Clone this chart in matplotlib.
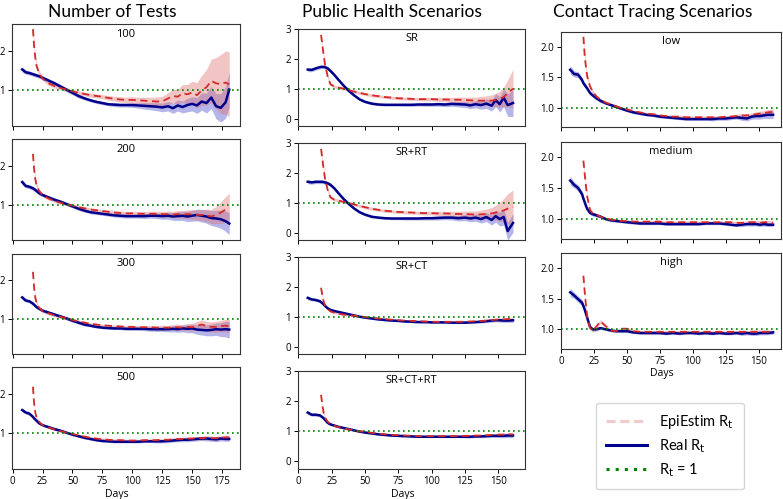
import numpy as np
import matplotlib
matplotlib.use("Agg")
import matplotlib.pyplot as plt
from matplotlib.lines import Line2D

nan = np.nan

# ------------------------------------------------------------------ #
# column 1 : number of tests
days_tests = [8, 11, 14, 17, 18, 19, 20, 22, 25, 30, 35, 40, 45, 50, 55, 60, 65, 70, 75, 80, 85,
              90, 95, 100, 105, 110, 115, 120, 125, 130, 134, 138, 142, 146, 150, 154, 158,
              162, 166, 170, 174, 178, 181]

real_100 = [1.53, 1.46, 1.44, 1.41, 1.40, 1.39, 1.38, 1.36, 1.32, 1.25, 1.18, 1.10, 1.02, 0.94, 0.86,
            0.80, 0.75, 0.71, 0.68, 0.65, 0.64, 0.63, 0.63, 0.63, 0.62, 0.61, 0.60, 0.59, 0.57, 0.60,
            0.55, 0.62, 0.58, 0.63, 0.66, 0.62, 0.72, 0.68, 0.82, 0.60, 0.56, 0.70, 1.02]
real_100_sd = [0.07, 0.05, 0.05, 0.05, 0.05, 0.05, 0.05, 0.05, 0.05, 0.05, 0.05, 0.05, 0.05, 0.05, 0.05,
               0.04, 0.04, 0.04, 0.04, 0.04, 0.05, 0.05, 0.05, 0.06, 0.07, 0.08, 0.09, 0.10, 0.11, 0.12,
               0.13, 0.14, 0.15, 0.17, 0.18, 0.20, 0.22, 0.25, 0.28, 0.32, 0.36, 0.40, 0.45]
epi_100 = [nan, nan, nan, 2.55, 2.10, 1.82, 1.62, 1.45, 1.30, 1.18, 1.11, 1.06, 1.02, 0.98, 0.94,
           0.91, 0.88, 0.86, 0.84, 0.81, 0.79, 0.77, 0.76, 0.76, 0.75, 0.74, 0.73, 0.72, 0.72, 0.80,
           0.86, 0.84, 0.93, 0.90, 0.95, 0.88, 1.00, 1.08, 1.24, 1.18, 1.16, 1.20, 1.15]
epi_100_sd = [nan, nan, nan, 0.12, 0.10, 0.08, 0.07, 0.06, 0.05, 0.05, 0.05, 0.05, 0.05, 0.05, 0.05,
              0.05, 0.05, 0.05, 0.05, 0.06, 0.06, 0.07, 0.07, 0.08, 0.08, 0.09, 0.10, 0.11, 0.13, 0.15,
              0.17, 0.19, 0.22, 0.25, 0.28, 0.32, 0.38, 0.45, 0.55, 0.65, 0.75, 0.80, 0.82]

real_200 = [1.58, 1.48, 1.46, 1.42, 1.40, 1.38, 1.35, 1.30, 1.25, 1.19, 1.13, 1.08, 1.02, 0.96, 0.90,
            0.85, 0.81, 0.79, 0.77, 0.75, 0.73, 0.72, 0.71, 0.71, 0.71, 0.71, 0.72, 0.72, 0.71, 0.72,
            0.70, 0.71, 0.72, 0.70, 0.72, 0.74, 0.72, 0.70, 0.66, 0.65, 0.63, 0.58, 0.52]
real_200_sd = [0.07, 0.05, 0.05, 0.05, 0.05, 0.05, 0.05, 0.05, 0.04, 0.04, 0.04, 0.04, 0.04, 0.04, 0.04,
               0.04, 0.04, 0.04, 0.04, 0.04, 0.04, 0.05, 0.05, 0.05, 0.05, 0.06, 0.06, 0.07, 0.08, 0.09,
               0.10, 0.11, 0.12, 0.13, 0.14, 0.15, 0.16, 0.17, 0.19, 0.21, 0.23, 0.26, 0.28]
epi_200 = [nan, nan, nan, 2.30, 1.90, 1.65, 1.50, 1.36, 1.25, 1.16, 1.10, 1.05, 1.02, 0.98, 0.94,
           0.91, 0.88, 0.86, 0.84, 0.82, 0.80, 0.79, 0.78, 0.78, 0.77, 0.77, 0.77, 0.77, 0.76, 0.76,
           0.75, 0.76, 0.75, 0.76, 0.75, 0.74, 0.74, 0.73, 0.70, 0.74, 0.80, 0.88, 0.92]
epi_200_sd = [nan, nan, nan, 0.10, 0.08, 0.07, 0.06, 0.05, 0.05, 0.04, 0.04, 0.04, 0.04, 0.04, 0.04,
              0.04, 0.04, 0.04, 0.04, 0.05, 0.05, 0.05, 0.05, 0.05, 0.06, 0.06, 0.06, 0.07, 0.07, 0.08,
              0.08, 0.09, 0.10, 0.11, 0.12, 0.13, 0.14, 0.16, 0.18, 0.22, 0.28, 0.33, 0.38]

real_300 = [1.56, 1.48, 1.46, 1.40, 1.37, 1.34, 1.31, 1.27, 1.22, 1.17, 1.12, 1.07, 1.02, 0.96, 0.91,
            0.86, 0.83, 0.80, 0.78, 0.77, 0.76, 0.76, 0.75, 0.75, 0.75, 0.75, 0.74, 0.74, 0.74, 0.74,
            0.75, 0.74, 0.76, 0.75, 0.76, 0.73, 0.72, 0.71, 0.72, 0.74, 0.73, 0.74, 0.73]
real_300_sd = [0.06, 0.04, 0.04, 0.04, 0.04, 0.04, 0.04, 0.04, 0.04, 0.04, 0.04, 0.04, 0.04, 0.04, 0.04,
               0.04, 0.03, 0.03, 0.03, 0.03, 0.03, 0.03, 0.04, 0.04, 0.04, 0.05, 0.05, 0.06, 0.06, 0.07,
               0.08, 0.08, 0.09, 0.10, 0.11, 0.12, 0.13, 0.14, 0.15, 0.16, 0.18, 0.20, 0.22]
epi_300 = [nan, nan, nan, 2.22, 1.80, 1.55, 1.42, 1.30, 1.21, 1.15, 1.10, 1.06, 1.02, 0.98, 0.94,
           0.91, 0.88, 0.86, 0.84, 0.83, 0.82, 0.81, 0.80, 0.80, 0.79, 0.79, 0.79, 0.78, 0.78, 0.78,
           0.79, 0.79, 0.78, 0.80, 0.79, 0.83, 0.86, 0.82, 0.80, 0.80, 0.82, 0.83, 0.82]
epi_300_sd = [nan, nan, nan, 0.08, 0.07, 0.06, 0.05, 0.04, 0.04, 0.04, 0.04, 0.04, 0.04, 0.04, 0.04,
              0.03, 0.03, 0.03, 0.03, 0.03, 0.03, 0.04, 0.04, 0.04, 0.04, 0.04, 0.05, 0.05, 0.06, 0.06,
              0.07, 0.08, 0.08, 0.09, 0.10, 0.11, 0.12, 0.12, 0.13, 0.14, 0.15, 0.16, 0.18]

real_500 = [1.59, 1.53, 1.50, 1.42, 1.38, 1.35, 1.32, 1.26, 1.21, 1.16, 1.11, 1.07, 1.02, 0.97, 0.93,
            0.89, 0.86, 0.83, 0.81, 0.80, 0.79, 0.79, 0.79, 0.79, 0.79, 0.80, 0.80, 0.80, 0.80, 0.81,
            0.82, 0.83, 0.84, 0.84, 0.85, 0.86, 0.87, 0.87, 0.86, 0.85, 0.87, 0.86, 0.86]
real_500_sd = [0.06, 0.04, 0.04, 0.04, 0.03, 0.03, 0.03, 0.03, 0.03, 0.03, 0.03, 0.03, 0.03, 0.03, 0.03,
               0.03, 0.03, 0.03, 0.03, 0.03, 0.03, 0.03, 0.03, 0.03, 0.03, 0.03, 0.03, 0.04, 0.04, 0.04,
               0.04, 0.04, 0.05, 0.05, 0.05, 0.05, 0.05, 0.06, 0.06, 0.06, 0.06, 0.06, 0.06]
epi_500 = [nan, nan, nan, 2.18, 1.75, 1.52, 1.40, 1.30, 1.21, 1.15, 1.10, 1.06, 1.02, 0.99, 0.95,
           0.92, 0.89, 0.87, 0.85, 0.84, 0.83, 0.83, 0.82, 0.82, 0.82, 0.83, 0.83, 0.83, 0.84, 0.84,
           0.85, 0.86, 0.86, 0.87, 0.87, 0.88, 0.88, 0.89, 0.88, 0.88, 0.89, 0.90, 0.90]
epi_500_sd = [nan, nan, nan, 0.06, 0.05, 0.04, 0.04, 0.03, 0.03, 0.03, 0.03, 0.03, 0.03, 0.03, 0.03,
              0.03, 0.03, 0.03, 0.03, 0.03, 0.03, 0.03, 0.03, 0.03, 0.03, 0.03, 0.03, 0.03, 0.03, 0.03,
              0.04, 0.04, 0.04, 0.04, 0.04, 0.04, 0.05, 0.05, 0.05, 0.05, 0.05, 0.05, 0.05]

# ------------------------------------------------------------------ #
# columns 2 and 3 share the same day grid
days_sc = [7, 10, 13, 16, 17, 18, 19, 20, 22, 24, 27, 30, 34, 38, 42, 46, 50, 55, 60, 65, 70,
           75, 80, 85, 90, 95, 100, 105, 110, 115, 120, 125, 129, 133, 137, 141, 145, 148, 151,
           154, 157, 161]

real_sr = [1.64, 1.63, 1.68, 1.72, 1.73, 1.73, 1.73, 1.72, 1.68, 1.60, 1.46, 1.30, 1.10, 0.92,
           0.77, 0.64, 0.56, 0.50, 0.47, 0.46, 0.46, 0.46, 0.46, 0.46, 0.47, 0.47, 0.47, 0.48,
           0.47, 0.49, 0.48, 0.47, 0.44, 0.48, 0.45, 0.50, 0.43, 0.62, 0.48, 0.70, 0.45, 0.52]
real_sr_sd = [0.07, 0.06, 0.06, 0.06, 0.06, 0.06, 0.06, 0.06, 0.06, 0.06, 0.05, 0.05, 0.05, 0.05,
              0.04, 0.04, 0.04, 0.04, 0.04, 0.04, 0.04, 0.04, 0.05, 0.05, 0.05, 0.06, 0.06, 0.07,
              0.07, 0.08, 0.09, 0.10, 0.11, 0.12, 0.14, 0.16, 0.18, 0.22, 0.26, 0.30, 0.38, 0.45]
epi_sr = [nan, nan, nan, nan, 2.80, 2.45, 2.10, 1.80, 1.40, 1.15, 1.07, 1.04, 1.00, 0.95,
          0.90, 0.86, 0.82, 0.78, 0.75, 0.72, 0.70, 0.68, 0.67, 0.66, 0.65, 0.65, 0.65, 0.64,
          0.64, 0.63, 0.63, 0.62, 0.61, 0.60, 0.60, 0.60, 0.60, 0.62, 0.65, 0.72, 0.85, 1.00]
epi_sr_sd = [nan, nan, nan, nan, 0.10, 0.09, 0.08, 0.07, 0.06, 0.05, 0.05, 0.05, 0.05, 0.05,
             0.05, 0.05, 0.05, 0.05, 0.05, 0.05, 0.05, 0.05, 0.05, 0.05, 0.05, 0.06, 0.06, 0.07,
             0.07, 0.08, 0.09, 0.10, 0.11, 0.12, 0.14, 0.16, 0.19, 0.22, 0.27, 0.33, 0.45, 0.65]

real_srrt = [1.70, 1.68, 1.70, 1.70, 1.70, 1.70, 1.69, 1.68, 1.65, 1.60, 1.48, 1.32, 1.12, 0.95,
             0.80, 0.68, 0.60, 0.53, 0.50, 0.48, 0.47, 0.47, 0.47, 0.47, 0.47, 0.48, 0.48, 0.49,
             0.50, 0.50, 0.48, 0.50, 0.47, 0.50, 0.45, 0.52, 0.42, 0.55, 0.45, 0.52, 0.05, 0.32]
real_srrt_sd = [0.07, 0.06, 0.06, 0.06, 0.06, 0.06, 0.06, 0.06, 0.06, 0.06, 0.05, 0.05, 0.05, 0.05,
                0.04, 0.04, 0.04, 0.04, 0.04, 0.04, 0.04, 0.04, 0.05, 0.05, 0.05, 0.06, 0.06, 0.07,
                0.07, 0.08, 0.09, 0.10, 0.11, 0.12, 0.13, 0.15, 0.17, 0.20, 0.23, 0.27, 0.30, 0.32]
epi_srrt = [nan, nan, nan, nan, 2.80, 2.45, 2.10, 1.80, 1.42, 1.18, 1.10, 1.07, 1.03, 0.99,
            0.94, 0.89, 0.85, 0.80, 0.76, 0.73, 0.71, 0.69, 0.68, 0.67, 0.66, 0.65, 0.65, 0.64,
            0.64, 0.63, 0.62, 0.62, 0.61, 0.60, 0.61, 0.62, 0.64, 0.67, 0.70, 0.74, 0.80, 0.85]
epi_srrt_sd = [nan, nan, nan, nan, 0.10, 0.09, 0.08, 0.07, 0.06, 0.05, 0.05, 0.05, 0.05, 0.05,
               0.05, 0.05, 0.05, 0.05, 0.05, 0.05, 0.05, 0.05, 0.05, 0.05, 0.05, 0.06, 0.06, 0.07,
               0.07, 0.08, 0.09, 0.10, 0.11, 0.12, 0.14, 0.17, 0.20, 0.25, 0.32, 0.40, 0.50, 0.58]

real_srct = [1.63, 1.58, 1.56, 1.52, 1.49, 1.45, 1.41, 1.36, 1.28, 1.23, 1.19, 1.16, 1.12, 1.08,
             1.04, 1.00, 0.97, 0.94, 0.91, 0.89, 0.87, 0.86, 0.84, 0.83, 0.82, 0.82, 0.81, 0.81,
             0.81, 0.80, 0.80, 0.80, 0.81, 0.82, 0.83, 0.85, 0.87, 0.88, 0.88, 0.87, 0.87, 0.88]
real_srct_sd = [0.07, 0.05, 0.05, 0.05, 0.05, 0.05, 0.05, 0.05, 0.04, 0.04, 0.04, 0.04, 0.03, 0.03,
                0.03, 0.03, 0.03, 0.03, 0.03, 0.03, 0.03, 0.03, 0.03, 0.03, 0.03, 0.03, 0.03, 0.03,
                0.03, 0.03, 0.03, 0.03, 0.04, 0.04, 0.04, 0.05, 0.05, 0.05, 0.06, 0.06, 0.06, 0.07]
epi_srct = [nan, nan, nan, nan, 1.97, 1.70, 1.50, 1.38, 1.25, 1.18, 1.13, 1.10, 1.07, 1.05,
            1.03, 1.01, 0.99, 0.96, 0.94, 0.92, 0.90, 0.88, 0.87, 0.86, 0.85, 0.84, 0.83, 0.83,
            0.83, 0.83, 0.83, 0.83, 0.84, 0.85, 0.86, 0.87, 0.89, 0.90, 0.91, 0.91, 0.92, 0.92]
epi_srct_sd = [nan, nan, nan, nan, 0.06, 0.05, 0.04, 0.04, 0.03, 0.03, 0.03, 0.03, 0.03, 0.03,
               0.03, 0.03, 0.03, 0.03, 0.03, 0.03, 0.03, 0.03, 0.03, 0.03, 0.03, 0.03, 0.03, 0.03,
               0.03, 0.03, 0.03, 0.03, 0.03, 0.03, 0.04, 0.04, 0.04, 0.04, 0.05, 0.05, 0.05, 0.05]

real_srctrt = [1.62, 1.55, 1.55, 1.53, 1.50, 1.47, 1.43, 1.38, 1.28, 1.23, 1.19, 1.15, 1.11, 1.07,
               1.03, 0.99, 0.96, 0.93, 0.90, 0.88, 0.86, 0.85, 0.84, 0.83, 0.82, 0.82, 0.82, 0.82,
               0.82, 0.82, 0.82, 0.82, 0.82, 0.83, 0.83, 0.84, 0.85, 0.85, 0.85, 0.85, 0.86, 0.86]
real_srctrt_sd = [0.07, 0.05, 0.05, 0.05, 0.05, 0.05, 0.05, 0.05, 0.04, 0.04, 0.04, 0.04, 0.03, 0.03,
                  0.03, 0.03, 0.03, 0.03, 0.03, 0.03, 0.03, 0.03, 0.03, 0.03, 0.03, 0.03, 0.03, 0.03,
                  0.03, 0.03, 0.03, 0.04, 0.04, 0.04, 0.04, 0.05, 0.05, 0.05, 0.06, 0.06, 0.07, 0.07]
epi_srctrt = [nan, nan, nan, nan, 2.21, 1.85, 1.60, 1.45, 1.32, 1.24, 1.18, 1.14, 1.10, 1.06,
              1.03, 1.00, 0.98, 0.95, 0.92, 0.90, 0.88, 0.87, 0.86, 0.85, 0.84, 0.84, 0.84, 0.84,
              0.84, 0.84, 0.84, 0.85, 0.85, 0.86, 0.86, 0.87, 0.88, 0.88, 0.89, 0.89, 0.90, 0.90]
epi_srctrt_sd = [nan, nan, nan, nan, 0.07, 0.05, 0.04, 0.04, 0.03, 0.03, 0.03, 0.03, 0.03, 0.03,
                 0.03, 0.03, 0.03, 0.03, 0.03, 0.03, 0.03, 0.03, 0.03, 0.03, 0.03, 0.03, 0.03, 0.03,
                 0.03, 0.03, 0.03, 0.03, 0.03, 0.03, 0.04, 0.04, 0.04, 0.04, 0.05, 0.05, 0.05, 0.05]

real_low = [1.62, 1.55, 1.54, 1.45, 1.40, 1.37, 1.34, 1.31, 1.24, 1.20, 1.15, 1.11, 1.07, 1.04,
            1.01, 0.98, 0.95, 0.92, 0.90, 0.88, 0.87, 0.85, 0.84, 0.83, 0.82, 0.81, 0.81, 0.81,
            0.81, 0.81, 0.82, 0.82, 0.83, 0.84, 0.83, 0.82, 0.85, 0.86, 0.86, 0.87, 0.88, 0.88]
real_low_sd = [0.07, 0.05, 0.05, 0.04, 0.04, 0.04, 0.04, 0.03, 0.03, 0.03, 0.03, 0.03, 0.02, 0.02,
               0.02, 0.02, 0.02, 0.02, 0.02, 0.02, 0.02, 0.02, 0.02, 0.02, 0.02, 0.02, 0.02, 0.02,
               0.02, 0.03, 0.03, 0.03, 0.03, 0.03, 0.04, 0.04, 0.04, 0.05, 0.05, 0.05, 0.06, 0.06]
epi_low = [nan, nan, nan, nan, 2.16, 1.85, 1.65, 1.50, 1.35, 1.26, 1.18, 1.13, 1.08, 1.05,
           1.02, 0.99, 0.97, 0.94, 0.92, 0.90, 0.89, 0.87, 0.86, 0.85, 0.85, 0.84, 0.84, 0.84,
           0.84, 0.84, 0.84, 0.85, 0.85, 0.86, 0.87, 0.87, 0.88, 0.89, 0.90, 0.91, 0.92, 0.93]
epi_low_sd = [nan, nan, nan, nan, 0.06, 0.05, 0.04, 0.04, 0.03, 0.03, 0.02, 0.02, 0.02, 0.02,
              0.02, 0.02, 0.02, 0.02, 0.02, 0.02, 0.02, 0.02, 0.02, 0.02, 0.02, 0.02, 0.02, 0.02,
              0.02, 0.02, 0.02, 0.02, 0.03, 0.03, 0.03, 0.03, 0.03, 0.04, 0.04, 0.04, 0.05, 0.05]

real_med = [1.62, 1.55, 1.50, 1.40, 1.33, 1.27, 1.21, 1.16, 1.10, 1.08, 1.06, 1.04, 1.00, 0.98,
            0.97, 0.96, 0.95, 0.94, 0.93, 0.93, 0.93, 0.93, 0.92, 0.92, 0.92, 0.92, 0.92, 0.92,
            0.93, 0.93, 0.93, 0.92, 0.91, 0.90, 0.91, 0.92, 0.92, 0.92, 0.91, 0.92, 0.91, 0.91]
real_med_sd = [0.07, 0.05, 0.05, 0.05, 0.04, 0.04, 0.04, 0.03, 0.03, 0.03, 0.03, 0.02, 0.02, 0.02,
               0.02, 0.02, 0.02, 0.02, 0.02, 0.02, 0.02, 0.02, 0.02, 0.02, 0.02, 0.02, 0.02, 0.02,
               0.02, 0.02, 0.02, 0.02, 0.02, 0.02, 0.03, 0.03, 0.03, 0.03, 0.03, 0.03, 0.03, 0.03]
epi_med = [nan, nan, nan, nan, 1.94, 1.72, 1.52, 1.35, 1.15, 1.09, 1.07, 1.04, 1.01, 0.99,
           0.98, 0.97, 0.97, 0.96, 0.96, 0.96, 0.96, 0.96, 0.95, 0.95, 0.95, 0.95, 0.95, 0.95,
           0.95, 0.95, 0.95, 0.95, 0.95, 0.94, 0.94, 0.95, 0.95, 0.95, 0.94, 0.95, 0.95, 0.94]
epi_med_sd = [nan, nan, nan, nan, 0.05, 0.04, 0.04, 0.03, 0.03, 0.03, 0.02, 0.02, 0.02, 0.02,
              0.02, 0.02, 0.02, 0.02, 0.02, 0.02, 0.02, 0.02, 0.02, 0.02, 0.02, 0.02, 0.02, 0.02,
              0.02, 0.02, 0.02, 0.02, 0.02, 0.02, 0.02, 0.02, 0.03, 0.03, 0.03, 0.03, 0.03, 0.03]

real_high = [1.60, 1.55, 1.49, 1.43, 1.38, 1.32, 1.25, 1.18, 1.04, 1.00, 1.00, 1.02, 1.00, 0.98,
             0.97, 0.97, 0.97, 0.95, 0.94, 0.94, 0.94, 0.94, 0.93, 0.94, 0.93, 0.94, 0.94, 0.93,
             0.94, 0.93, 0.94, 0.93, 0.93, 0.94, 0.93, 0.94, 0.93, 0.93, 0.94, 0.94, 0.94, 0.95]
real_high_sd = [0.07, 0.05, 0.05, 0.05, 0.04, 0.04, 0.04, 0.03, 0.03, 0.03, 0.03, 0.02, 0.02, 0.02,
                0.02, 0.02, 0.02, 0.02, 0.02, 0.02, 0.02, 0.02, 0.02, 0.02, 0.02, 0.02, 0.02, 0.02,
                0.02, 0.02, 0.02, 0.02, 0.02, 0.02, 0.03, 0.03, 0.03, 0.03, 0.03, 0.03, 0.03, 0.03]
epi_high = [nan, nan, nan, nan, 1.87, 1.60, 1.38, 1.20, 1.02, 0.98, 1.05, 1.13, 1.05, 0.98,
            0.97, 1.01, 1.01, 0.97, 0.96, 0.96, 0.96, 0.96, 0.96, 0.96, 0.96, 0.96, 0.96, 0.96,
            0.96, 0.96, 0.96, 0.96, 0.96, 0.96, 0.96, 0.96, 0.96, 0.96, 0.96, 0.96, 0.96, 0.96]
epi_high_sd = [nan, nan, nan, nan, 0.05, 0.04, 0.04, 0.03, 0.03, 0.03, 0.03, 0.03, 0.02, 0.02,
               0.02, 0.02, 0.02, 0.02, 0.02, 0.02, 0.02, 0.02, 0.02, 0.02, 0.02, 0.02, 0.02, 0.02,
               0.02, 0.02, 0.02, 0.02, 0.02, 0.02, 0.02, 0.02, 0.03, 0.03, 0.03, 0.03, 0.03, 0.03]

col_titles = ["Number of Tests", "Public Health Scenarios", "Contact Tracing Scenarios"]

# ------------------------------------------------------------------ #
RED = "#d42a2a"
NAVY = "#00008b"
BAND_RED = "#e07070"
BAND_BLUE = "#4848c8"
W, H = 783.0, 499.0


def box(x0, y0, x1, y1):
    # pixel box (top-left origin) -> figure fraction
    return [x0 / W, 1 - y1 / H, (x1 - x0) / W, (y1 - y0) / H]


def draw_panel(ax, days, real, real_sd, epi, epi_sd, label, xlim, ylim, yticks, ylabels, xlabels):
    d = np.array(days, dtype=float)
    r = np.array(real, dtype=float)
    rs = np.array(real_sd, dtype=float)
    e = np.array(epi, dtype=float)
    es = np.array(epi_sd, dtype=float)
    ax.fill_between(d, r - rs, r + rs, color=BAND_BLUE, alpha=0.4, lw=0)
    ax.fill_between(d, e - es, e + es, color=BAND_RED, alpha=0.4, lw=0)
    ax.plot(d, r, color=NAVY, lw=1.8)
    ax.plot(d, e, color=RED, lw=1.3, ls=(0, (4, 2.5)))
    ax.axhline(1, color="green", lw=1.2, ls=(0, (1, 2)))
    ax.set_xlim(*xlim)
    ax.set_ylim(*ylim)
    ax.set_yticks(yticks)
    ax.set_yticklabels(ylabels)
    ax.set_xticks(list(range(0, int(xlim[1]), 25)))
    if not xlabels:
        ax.set_xticklabels([])
    ax.tick_params(labelsize=7, length=3, width=0.7, pad=2)
    for lab in ax.get_xticklabels() + ax.get_yticklabels():
        lab.set_family("Open Sans")
    for s in ax.spines.values():
        s.set_linewidth(0.8)
        s.set_color("#333333")
    ax.text(0.5, 0.9, label, transform=ax.transAxes, ha="center", va="center",
            fontsize=8, family="Open Sans")
    if xlabels:
        ax.set_xlabel("Days", fontsize=7.5, family="Open Sans", labelpad=3)
        ax.xaxis.set_label_coords(0.46, -0.2)


fig = plt.figure(figsize=(7.83, 4.99), dpi=100)

# column 1
tests = [("100", real_100, real_100_sd, epi_100, epi_100_sd, (24, 126)),
         ("200", real_200, real_200_sd, epi_200, epi_200_sd, (139, 240)),
         ("300", real_300, real_300_sd, epi_300, epi_300_sd, (254, 354)),
         ("500", real_500, real_500_sd, epi_500, epi_500_sd, (367, 469))]
for i, (lab, r, rs, e, es, (y0, y1)) in enumerate(tests):
    ax = fig.add_axes(box(12, y0, 240, y1))
    draw_panel(ax, days_tests, r, rs, e, es, lab, (-0.5, 190), (0.1, 2.68),
               [1, 2], ["1", "2"], i == 3)

# column 2
scen = [("SR", real_sr, real_sr_sd, epi_sr, epi_sr_sd, (29, 126)),
        ("SR+RT", real_srrt, real_srrt_sd, epi_srrt, epi_srrt_sd, (143, 240)),
        ("SR+CT", real_srct, real_srct_sd, epi_srct, epi_srct_sd, (257, 354)),
        ("SR+CT+RT", real_srctrt, real_srctrt_sd, epi_srctrt, epi_srctrt_sd, (371, 469))]
for i, (lab, r, rs, e, es, (y0, y1)) in enumerate(scen):
    ax = fig.add_axes(box(298, y0, 525, y1))
    draw_panel(ax, days_sc, r, rs, e, es, lab, (-0.3, 170), (-0.25, 3.0),
               [0, 1, 2, 3], ["0", "1", "2", "3"], i == 3)

# column 3
ct = [("low", real_low, real_low_sd, epi_low, epi_low_sd, (32, 127)),
      ("medium", real_med, real_med_sd, epi_med, epi_med_sd, (142, 239)),
      ("high", real_high, real_high_sd, epi_high, epi_high_sd, (253, 349))]
for i, (lab, r, rs, e, es, (y0, y1)) in enumerate(ct):
    ax = fig.add_axes(box(561, y0, 781, y1))
    draw_panel(ax, days_sc, r, rs, e, es, lab, (0, 167), (0.68, 2.24),
               [1.0, 1.5, 2.0], ["1.0", "1.5", "2.0"], i == 2)

# column titles
for x, t in zip([112, 392, 653], col_titles):
    fig.text(x / W, 1 - 12 / H, t, ha="center", va="center", fontsize=12.5, family="Lato")

# legend
handles = [Line2D([], [], color=RED, alpha=0.25, lw=2.2, ls=(0, (3, 1.5))),
           Line2D([], [], color=NAVY, lw=2.2),
           Line2D([], [], color="green", lw=2.2, ls=(0, (1, 2)))]
labels = [r"EpiEstim R$_{\rm t}$", r"Real R$_{\rm t}$", r"R$_{\rm t}$ = 1"]
fig.legend(handles, labels, loc="center", bbox_to_anchor=(670 / W, 1 - 446 / H),
           prop={"family": "Lato", "size": 10.5}, handlelength=2.8, labelspacing=0.45,
           borderpad=0.7, frameon=True, fancybox=True, edgecolor="#cccccc")

fig.savefig("out.png", dpi=100)
